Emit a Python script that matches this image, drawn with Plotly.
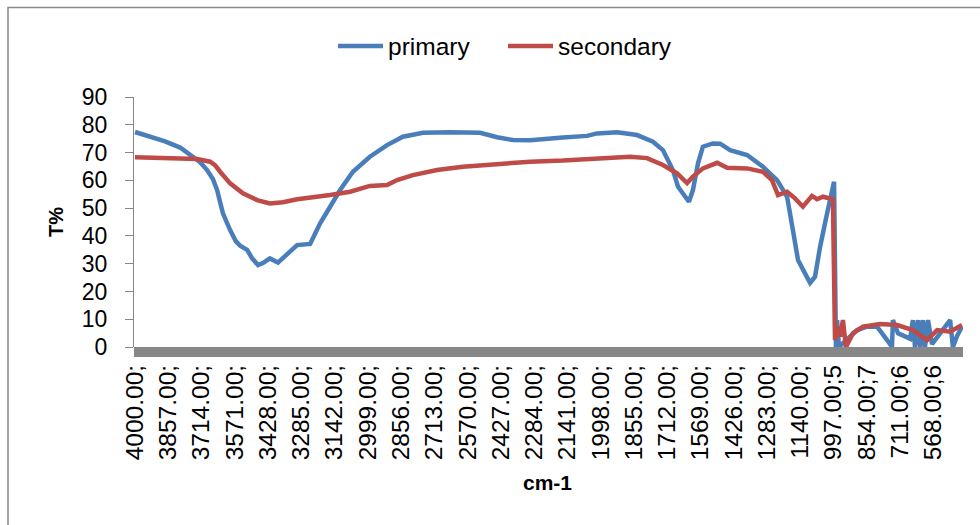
import plotly.graph_objects as go

# ---- data ----
primary_wn = [4000, 3935, 3871, 3806, 3751, 3720, 3690, 3665, 3647, 3622, 3591, 3566, 3548,
              3518, 3497, 3471, 3450, 3420, 3385, 3346, 3303, 3247, 3204, 3161, 3118, 3063,
              2990, 2916, 2848, 2762, 2645, 2516, 2443, 2375, 2301, 2160, 2056, 2013, 1927,
              1841, 1773, 1730, 1687, 1665, 1644, 1618, 1601, 1579, 1558, 1515, 1484, 1441,
              1368, 1300, 1239, 1196, 1171, 1149, 1119, 1097, 1076, 1054, 1024, 994, 986,
              981, 973, 938, 895, 852, 809, 766, 745, 741, 719, 667, 655, 646, 633, 624, 612,
              603, 590, 573, 538, 495, 483, 465, 444]
primary_t = [77.4, 75.8, 74.0, 71.8, 68.5, 66.5, 63.7, 60.5, 56.5, 48.1, 42.1, 38.0, 36.5,
             35.0, 32.0, 29.5, 30.2, 31.9, 30.4, 33.5, 36.7, 37.1, 44.5, 50.5, 56.5, 63.1,
             68.5, 72.7, 75.7, 77.1, 77.3, 77.1, 75.5, 74.5, 74.4, 75.4, 76.0, 76.9, 77.3,
             76.3, 73.9, 70.9, 63.7, 57.7, 55.3, 52.3, 56.5, 66.1, 72.1, 73.3, 73.2, 70.9,
             69.1, 64.9, 60.1, 54.1, 42.1, 31.3, 26.5, 23.1, 25.3, 36.1, 48.1, 59.5, 0.0,
             9.7, 0.0, 2.5, 6.1, 7.3, 7.3, 2.5, 0.0, 9.7, 4.9, 3.0, 9.7, 0.0, 9.7, 0.0, 9.7,
             0.0, 9.7, 1.0, 4.9, 9.7, 0.0, 4.0, 7.3]

secondary_wn = [4000, 3892, 3806, 3733, 3677, 3656, 3634, 3591, 3536, 3475, 3420, 3364, 3303,
                3217, 3161, 3075, 2990, 2916, 2873, 2805, 2701, 2590, 2443, 2301, 2160, 2013,
                1871, 1798, 1730, 1669, 1626, 1601, 1558, 1497, 1454, 1368, 1300, 1261, 1235,
                1196, 1162, 1128, 1089, 1067, 1042, 999, 990, 981, 968, 956, 943, 913, 870,
                796, 723, 655, 594, 551, 495, 444]
secondary_t = [68.3, 68.0, 68.1, 67.7, 66.7, 65.5, 63.1, 58.9, 55.3, 52.9, 51.7, 52.1, 53.2,
               53.9, 54.7, 55.9, 58.0, 58.3, 60.1, 61.9, 63.7, 64.9, 65.9, 66.7, 67.1, 67.9,
               68.5, 68.0, 65.5, 62.5, 59.0, 61.3, 64.3, 66.3, 64.5, 64.3, 63.1, 60.1, 54.7,
               55.9, 53.5, 50.5, 54.4, 53.2, 54.1, 53.2, 2.5, 7.3, 3.7, 9.7, 0.0, 4.9, 7.3,
               8.3, 7.9, 6.1, 2.5, 6.1, 5.5, 7.9]

tick_vals = [4000, 3857, 3714, 3571, 3428, 3285, 3142, 2999, 2856, 2713, 2570, 2427, 2284,
             2141, 1998, 1855, 1712, 1569, 1426, 1283, 1140, 997, 854, 711, 568]
tick_text = ["4000.00;", "3857.00;", "3714.00;", "3571.00;", "3428.00;", "3285.00;",
             "3142.00;", "2999.00;", "2856.00;", "2713.00;", "2570.00;", "2427.00;",
             "2284.00;", "2141.00;", "1998.00;", "1855.00;", "1712.00;", "1569.00;",
             "1426.00;", "1283.00;", "1140.00;", "997.00;5", "854.00;7", "711.00;6",
             "568.00;6"]
y_ticks = [0, 10, 20, 30, 40, 50, 60, 70, 80, 90]

BLUE = "#4A7EBB"
RED = "#BE4B48"
FONT = "Liberation Sans"

W, H = 980, 525
L, R, T, B = 134, 963, 97, 347
pw, ph = R - L, B - T


def px(x):
    return (x - L) / pw


def py(y):
    return (B - y) / ph


fig = go.Figure()
fig.add_trace(go.Scatter(x=primary_wn, y=primary_t, mode="lines", name="primary",
                         line=dict(color=BLUE, width=4.5)))
fig.add_trace(go.Scatter(x=secondary_wn, y=secondary_t, mode="lines", name="secondary",
                         line=dict(color=RED, width=4.5)))

fig.update_layout(
    width=W, height=H,
    margin=dict(l=L, r=W - R, t=T, b=H - B, pad=0),
    paper_bgcolor="white", plot_bgcolor="white",
    font=dict(family=FONT, color="#000000"),
    showlegend=True,
    legend=dict(orientation="h", x=px(333), y=py(46), xanchor="left", yanchor="middle",
                font=dict(size=24.5, family=FONT), bgcolor="rgba(0,0,0,0)",
                itemwidth=45, entrywidth=110, entrywidthmode="pixels", tracegroupgap=0),
    xaxis=dict(range=[4004.3, 439.6], tickmode="array", tickvals=tick_vals,
               ticktext=tick_text, tickangle=-90, showgrid=False, zeroline=False,
               showline=False, ticks="", tickfont=dict(size=24.5, family=FONT),
               ticklabelstandoff=12),
    yaxis=dict(range=[0, 90], tickvals=y_ticks, showgrid=False, zeroline=False,
               showline=True, linecolor="#868686", linewidth=1, ticks="outside",
               ticklen=8, tickcolor="#868686", tickfont=dict(size=23, family=FONT),
               ticklabelstandoff=13),
    shapes=[
        dict(type="rect", xref="paper", yref="paper", x0=0, x1=1, y0=-10 / ph, y1=0,
             fillcolor="#878787", line=dict(width=0), layer="above"),
        dict(type="rect", xref="paper", yref="paper", x0=px(8), x1=px(990),
             y0=py(540), y1=py(7.5), line=dict(color="#898989", width=1.5),
             fillcolor="rgba(0,0,0,0)", layer="above"),
    ],
    annotations=[
        dict(text="<b>T%</b>", xref="paper", yref="paper", x=px(56), y=py(222),
             showarrow=False, textangle=-90, font=dict(size=20, family=FONT),
             xanchor="center", yanchor="middle"),
        dict(text="<b>cm-1</b>", xref="paper", yref="paper", x=px(547), y=py(482),
             showarrow=False, font=dict(size=21, family=FONT),
             xanchor="center", yanchor="middle"),
    ],
)

fig.write_html("out.html")
